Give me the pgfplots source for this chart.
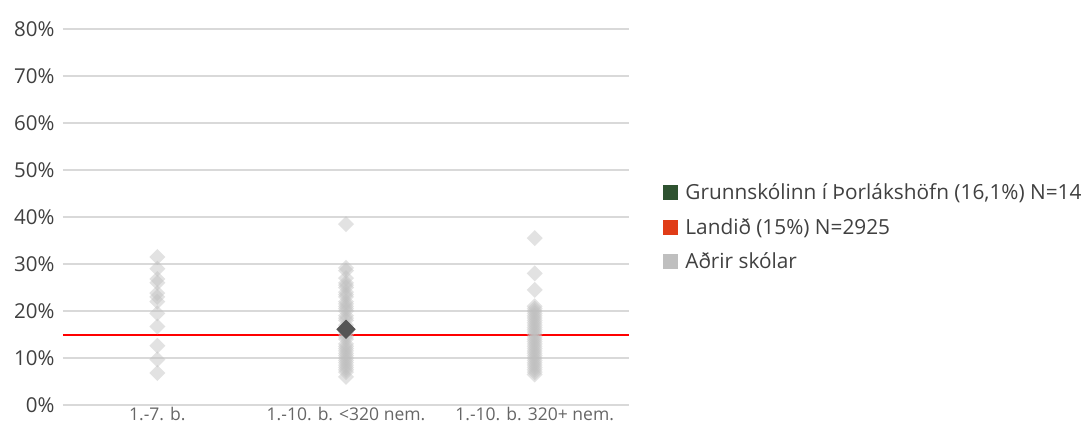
\documentclass[border=0pt]{standalone}
\usepackage{pgfplots}
\pgfplotsset{compat=1.18}
\usepackage{fontspec}
\setmainfont{Open Sans}
\definecolor{grn}{HTML}{2E5230}
\definecolor{orng}{HTML}{E03C17}
\definecolor{lgray}{HTML}{BFBFBF}
\definecolor{dgray}{HTML}{555555}
\definecolor{gridc}{HTML}{D9D9D9}
\definecolor{txt}{HTML}{404040}
\pgfplotsset{sqleg/.style={legend image code/.code={\fill[#1] (0pt,-7pt) rectangle (14pt,7pt); \path[draw=none] (0pt,0pt) -- (20pt,0pt);}}}
\begin{document}
\begin{tikzpicture}[x=1pt,y=1pt]
\path[use as bounding box] (0,0) rectangle (1084,426);
\begin{axis}[at={(63pt,21pt)}, anchor=south west, scale only axis,
  width=566pt, height=376pt,
  xmin=-0.5, xmax=2.5, ymin=0, ymax=80,
  axis line style={draw=none},
  major tick length=0pt,
  ymajorgrids, grid style={gridc, line width=1.3pt},
  ytick={0,10,...,80},
  yticklabels={0\%,10\%,20\%,30\%,40\%,50\%,60\%,70\%,80\%},
  xtick={0,1,2},
  xticklabels={1.-7. b., 1.-10. b. <320 nem., 1.-10. b. 320+ nem.},
  yticklabel style={font=\fontsize{20.5}{23}\selectfont, text=txt, xshift=-5pt},
  xticklabel style={font=\fontsize{17.5}{20}\selectfont, text=black!60, inner sep=2pt, text depth=0pt},
  clip=false,
  legend cell align=left,
  legend style={at={(1,0.5)}, anchor=west, xshift=34pt, yshift=-10pt,
    draw=none, fill=none, inner sep=0pt,
    font=\fontsize{20.8}{24}\selectfont, text=txt,
    row sep=13pt, cells={anchor=west}},
]
\addlegendimage{sqleg=grn}
\addlegendentry{Grunnskólinn í Þorlákshöfn (16,1\%) N=14}
\addlegendimage{sqleg=orng}
\addlegendentry{Landið (15\%) N=2925}
\addlegendimage{sqleg=lgray}
\addlegendentry{Aðrir skólar}

\addplot[forget plot, only marks, mark=square*, mark size=5.66pt,
  mark options={rotate=45, fill=lgray, draw=none}, fill opacity=0.45, draw opacity=0]
 coordinates {
 (0,31.5) (0,29.0) (0,26.8) (0,26.0) (0,23.8) (0,23.0) (0,22.0)
 (0,19.5) (0,16.7) (0,12.6) (0,9.7) (0,6.8)
 (1,38.5) (1,29.2) (1,28.6) (1,27.0) (1,26.0) (1,25.5) (1,25.0) (1,24.0)
 (1,23.5) (1,23.0) (1,22.0) (1,21.5) (1,21.0) (1,20.5) (1,20.0) (1,19.0)
 (1,18.5) (1,18.0) (1,17.0) (1,16.5) (1,15.5) (1,15.0) (1,14.5) (1,14.0)
 (1,13.0) (1,12.5) (1,12.0) (1,11.5) (1,11.0) (1,10.5) (1,10.0) (1,9.5)
 (1,9.0) (1,8.5) (1,8.0) (1,7.5) (1,7.0) (1,6.0)
 (2,35.5) (2,28.0) (2,24.5) (2,21.0) (2,20.5) (2,20.0) (2,19.5) (2,19.0)
 (2,18.5) (2,18.0) (2,17.5) (2,17.0) (2,16.5) (2,16.0) (2,15.5) (2,15.0)
 (2,14.5) (2,14.0) (2,13.5) (2,13.0) (2,12.5) (2,12.0) (2,11.5) (2,11.0)
 (2,10.5) (2,10.0) (2,9.5) (2,9.0) (2,8.5) (2,8.0) (2,7.5) (2,7.0) (2,6.5)
 };
\addplot[forget plot, red, line width=2pt] coordinates {(-0.5,15) (2.5,15)};
\addplot[forget plot, only marks, mark=square*, mark size=6.6pt, draw=dgray,
  mark options={rotate=45, fill=dgray, draw=dgray}] coordinates {(1,16.1)};
\end{axis}
\end{tikzpicture}
\end{document}
